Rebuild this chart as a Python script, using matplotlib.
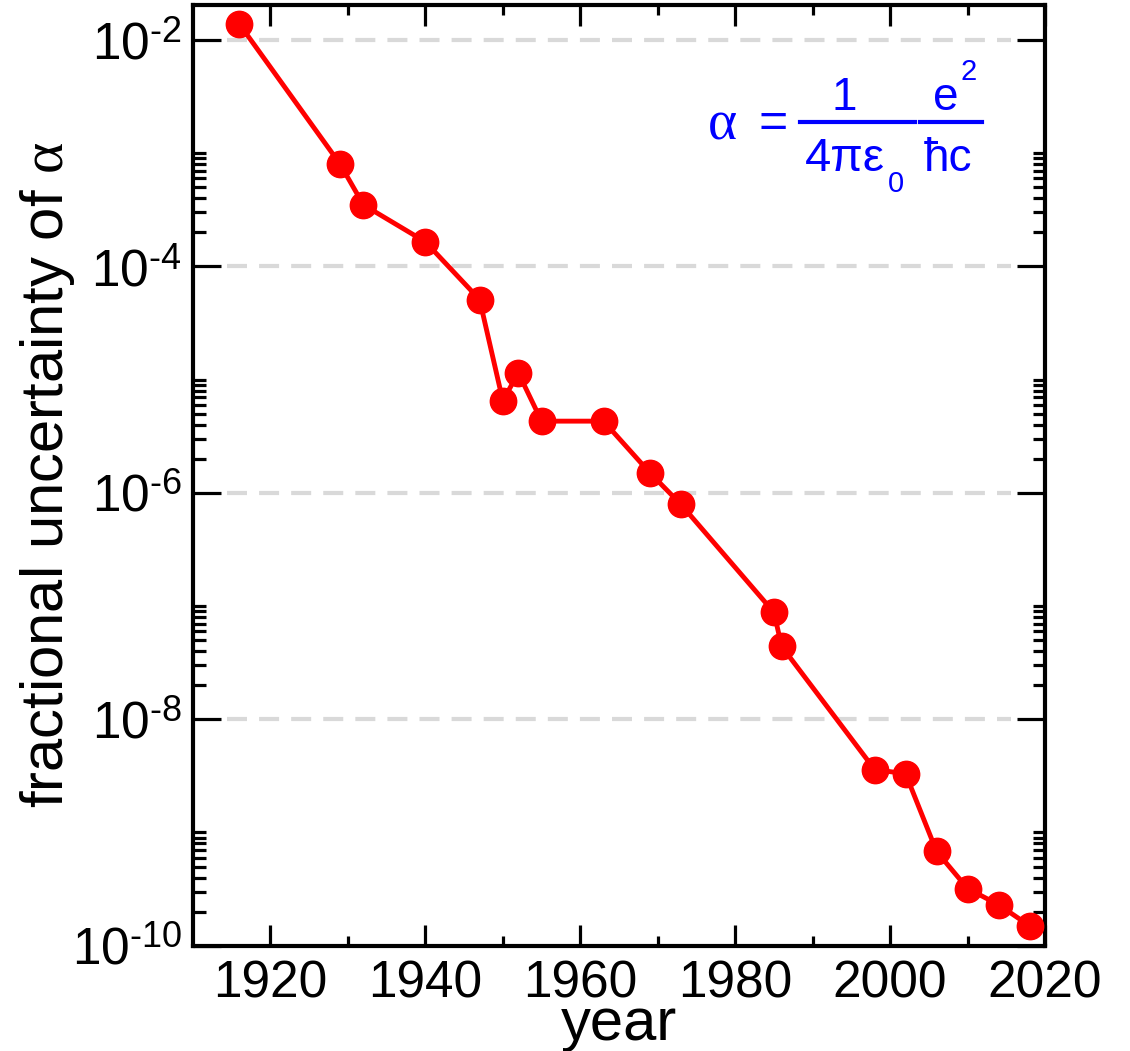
import matplotlib
matplotlib.use("Agg")
import matplotlib.pyplot as plt
from matplotlib.lines import Line2D

plt.rcParams["font.family"] = ["Liberation Sans", "DejaVu Sans"]
plt.rcParams["mathtext.fontset"] = "custom"
plt.rcParams["mathtext.rm"] = "Liberation Sans"
plt.rcParams["mathtext.it"] = "Liberation Serif"
plt.rcParams["mathtext.sf"] = "Liberation Sans"

# CODATA adjustments of the fine-structure constant
years = [1916, 1929, 1932, 1940, 1947, 1950, 1952, 1955, 1963, 1969, 1973,
         1985, 1986, 1998, 2002, 2006, 2010, 2014, 2018]
uncert = [1.38e-2, 8.0e-4, 3.5e-4, 1.65e-4, 5.1e-5, 6.5e-6, 1.15e-5, 4.3e-6,
          4.3e-6, 1.5e-6, 7.9e-7, 8.8e-8, 4.4e-8, 3.6e-9, 3.3e-9, 6.8e-10,
          3.2e-10, 2.3e-10, 1.5e-10]

x_major = [1920, 1940, 1960, 1980, 2000, 2020]
x_minor = [1930, 1950, 1970, 1990, 2010]
y_exps = [-10, -8, -6, -4, -2]

W, H = 1130, 1051
fig = plt.figure(figsize=(W / 100, H / 100), dpi=100)
ax = fig.add_axes([0.1708, 0.1002, 0.754, 0.895])


def px(x, y):
    # pixel position (from top-left) -> figure fraction
    return x / W, 1 - y / H


ax.plot(years, uncert, color="#ff0000", lw=3.5, marker="o", ms=19,
        mec="#ff0000", mfc="#ff0000", zorder=3, clip_on=False)

ax.set_yscale("log")
ax.set_xlim(1910, 2020)
ax.set_ylim(1e-10, 10 ** -1.691)

ax.set_xticks(x_major)
ax.set_xticks(x_minor, minor=True)
ax.set_xticklabels([str(v) for v in x_major])

ax.set_yticks([10.0 ** e for e in y_exps])
ax.set_yticklabels([r"$\mathrm{10}^{\text{-%d}}$" % -e for e in y_exps])
ax.set_yticks([k * 10.0 ** e for e in y_exps[:-1] for k in range(2, 10)]
              + [10.0 ** (e + 1) for e in y_exps[:-1]], minor=True)
ax.yaxis.set_minor_formatter(plt.NullFormatter())

ax.tick_params(axis="both", which="both", direction="in", top=True, right=True,
               labelsize=37, width=2.3, color="black")
ax.tick_params(axis="y", which="major", length=20, pad=8)
ax.tick_params(axis="y", which="minor", length=9)
ax.tick_params(axis="x", which="major", length=15, pad=10)
ax.tick_params(axis="x", which="minor", length=7.5)

for s in ax.spines.values():
    s.set_linewidth(3)

# dashed reference lines at the labelled decades
for e in y_exps[1:]:
    ax.axhline(10.0 ** e, xmin=0.04, xmax=0.96, color="#d9d9d9", lw=3,
               ls=(0, (4.8, 2.9)), zorder=1)

ax.set_xlabel("year", fontsize=43, labelpad=-8)
fig.text(0.042, 0.548, r"fractional uncertainty of $\mathit{\alpha}$", rotation=90,
         fontsize=43, ha="center", va="center")

# alpha = 1/(4 pi eps0) * e^2/(hbar c), laid out by hand
blue = "#0000ff"
fig.text(*px(722, 126), "α", family="Liberation Serif", fontsize=40,
         color=blue, ha="center", va="center")
fig.text(*px(773, 124), "=", fontsize=36, color=blue, ha="center", va="center")
fig.add_artist(Line2D([800 / W, 915 / W], [1 - 122 / H] * 2, color=blue, lw=3))
fig.add_artist(Line2D([920 / W, 982 / W], [1 - 122 / H] * 2, color=blue, lw=3))
fig.text(*px(844, 110), "1", fontsize=33, color=blue, ha="center", va="baseline")
fig.text(*px(805, 171), "4πε", fontsize=34, color=blue, ha="left", va="baseline")
fig.text(*px(888, 192), "0", fontsize=21, color=blue, ha="left", va="baseline")
fig.text(*px(933, 110), "e", fontsize=33, color=blue, ha="left", va="baseline")
fig.text(*px(961, 80), "2", fontsize=21, color=blue, ha="left", va="baseline")
fig.text(*px(924, 171), "ħc", fontsize=33, color=blue, ha="left", va="baseline")

fig.savefig("out.png", dpi=100)
